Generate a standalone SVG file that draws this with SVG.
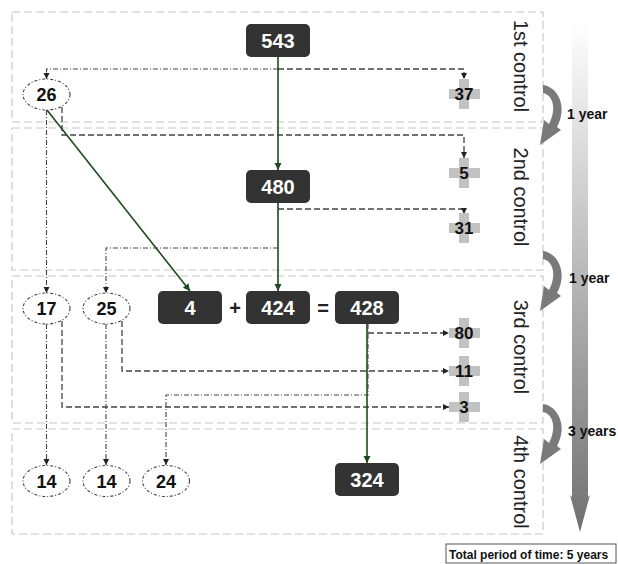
<svg xmlns="http://www.w3.org/2000/svg" width="618" height="564" viewBox="0 0 618 564">
<style>
.sec{fill:none;stroke:#c8c8c8;stroke-width:1.2;stroke-dasharray:8 4}
.node rect{fill:#333;stroke:none}
.node text{fill:#fff;font-family:"Liberation Sans",Arial,sans-serif;font-weight:bold;font-size:20px;text-anchor:middle}
.ell ellipse{fill:#fff;stroke:#444;stroke-width:1.1;stroke-dasharray:3 2 1 2}
.ell text{fill:#111;font-family:"Liberation Sans",Arial,sans-serif;font-weight:bold;font-size:18px;text-anchor:middle}
.cross rect{fill:#c2c2c2}
.cross text{fill:#111;font-family:"Liberation Sans",Arial,sans-serif;font-weight:bold;font-size:17px;text-anchor:middle}
.dash{fill:none;stroke:#444;stroke-width:1.3;stroke-dasharray:6 3}
.dd{fill:none;stroke:#444;stroke-width:1.1;stroke-dasharray:5 2 1 2}
.grn{fill:none;stroke:#1e4a1e;stroke-width:1.6}
.lab{fill:#222;font-family:"Liberation Sans",Arial,sans-serif;font-size:20px;text-anchor:middle}
.yr{fill:#111;font-family:"Liberation Sans",Arial,sans-serif;font-weight:bold;font-size:14px}
.op{fill:#222;font-family:"Liberation Sans",Arial,sans-serif;font-weight:bold;font-size:20px;text-anchor:middle}
.curv{fill:#7a7a7a;stroke:none}
</style>
<defs>
<marker id="ah" markerWidth="7" markerHeight="7" refX="6" refY="3" orient="auto" markerUnits="userSpaceOnUse"><path d="M0,0 L6,3 L0,6 z" fill="#222"/></marker>
<marker id="ag" markerWidth="8" markerHeight="8" refX="7" refY="3.5" orient="auto" markerUnits="userSpaceOnUse"><path d="M0,0 L7,3.5 L0,7 z" fill="#1e4a1e"/></marker>
<linearGradient id="bar" x1="0" y1="0" x2="0" y2="1">
<stop offset="0" stop-color="#ffffff"/>
<stop offset="1" stop-color="#707070"/>
</linearGradient>
<path id="curvA" class="curv" d="M543,0 C558,2 568,22 557,42 L561,45 L540,60 L544,35 L549,39 C557,24 553,10 543,8 Z"/>
</defs>
<rect width="618" height="564" fill="#fff"/>
<g id="sections">
<rect class="sec" x="12" y="12" width="531" height="110"/>
<rect class="sec" x="12" y="128" width="531" height="142"/>
<rect class="sec" x="12" y="276" width="531" height="147"/>
<rect class="sec" x="12" y="429" width="531" height="105"/>
</g>
<g id="timeline">
<polygon points="572,22 588,22 588,497 590,495 580,532 570,495 572,497" fill="url(#bar)"/>
<use href="#curvA" transform="translate(0,85)"/>
<use href="#curvA" transform="translate(0,251)"/>
<use href="#curvA" transform="translate(0,404)"/>
<text class="yr" x="567" y="119">1 year</text>
<text class="yr" x="569" y="283">1 year</text>
<text class="yr" x="568" y="436">3 years</text>
</g>
<g id="labels">
<text class="lab" transform="translate(521,66) rotate(90)" dominant-baseline="central">1st control</text>
<text class="lab" transform="translate(521,197) rotate(90)" dominant-baseline="central">2nd control</text>
<text class="lab" transform="translate(521,347) rotate(90)" dominant-baseline="central">3rd control</text>
<text class="lab" transform="translate(521,482) rotate(90)" dominant-baseline="central">4th control</text>
</g>
<g id="connectors">
<path class="dd" d="M278,69 H46.5 V79" marker-end="url(#ah)"/>
<path class="dash" d="M278,69 H464 V79" marker-end="url(#ah)"/>
<path class="dash" d="M62,107 V135 H464 V158" marker-end="url(#ah)"/>
<path class="dd" d="M46.5,110 V293" marker-end="url(#ah)"/>
<path class="dash" d="M278,209 H464 V214" marker-end="url(#ah)"/>
<path class="dd" d="M278,248 H106 V293" marker-end="url(#ah)"/>
<path class="dd" d="M46.5,324 V465" marker-end="url(#ah)"/>
<path class="dash" d="M62,321 V407 H449" marker-end="url(#ah)"/>
<path class="dd" d="M106,324 V465" marker-end="url(#ah)"/>
<path class="dash" d="M122,321 V371 H449" marker-end="url(#ah)"/>
<path class="dash" d="M368,333 H449" marker-end="url(#ah)"/>
<path class="dd" d="M368,324 V395 H166 V465" marker-end="url(#ah)"/>
<path class="grn" d="M278,57 V170" marker-end="url(#ag)"/>
<path class="grn" d="M278,203 V291" marker-end="url(#ag)"/>
<path class="grn" d="M47,110 L190,291" marker-end="url(#ag)"/>
<path class="grn" d="M367,324 V463" marker-end="url(#ag)"/>
</g>
<g id="n543" class="node"><rect x="246" y="24" width="64" height="33" rx="5"/><text x="278" y="48">543</text></g>
<g id="n480" class="node"><rect x="246" y="170" width="64" height="33" rx="5"/><text x="278" y="194">480</text></g>
<g id="n4" class="node"><rect x="158" y="291" width="64" height="33" rx="5"/><text x="190" y="315">4</text></g>
<g id="n424" class="node"><rect x="246" y="291" width="64" height="33" rx="5"/><text x="278" y="315">424</text></g>
<g id="n428" class="node"><rect x="335" y="291" width="64" height="33" rx="5"/><text x="367" y="315">428</text></g>
<g id="n324" class="node"><rect x="335" y="463" width="64" height="33" rx="5"/><text x="367" y="487">324</text></g>
<text class="op" x="235" y="315">+</text>
<text class="op" x="323" y="315">=</text>
<g id="e26" class="ell"><ellipse cx="46.5" cy="94.5" rx="23.5" ry="15.5"/><text x="46.5" y="101">26</text></g>
<g id="e17" class="ell"><ellipse cx="46.5" cy="308.5" rx="23.5" ry="15.5"/><text x="46.5" y="315">17</text></g>
<g id="e25" class="ell"><ellipse cx="106.5" cy="308.5" rx="23.5" ry="15.5"/><text x="106.5" y="315">25</text></g>
<g id="e14a" class="ell"><ellipse cx="46.5" cy="481" rx="23.5" ry="15.5"/><text x="46.5" y="487.5">14</text></g>
<g id="e14b" class="ell"><ellipse cx="106.5" cy="481" rx="23.5" ry="15.5"/><text x="106.5" y="487.5">14</text></g>
<g id="e24" class="ell"><ellipse cx="166" cy="481" rx="23.5" ry="15.5"/><text x="166" y="487.5">24</text></g>
<g id="c37" class="cross"><rect x="449" y="89" width="31" height="10"/><rect x="459" y="79" width="10" height="30"/><text x="464" y="100">37</text></g>
<g id="c5" class="cross"><rect x="449" y="168" width="31" height="10"/><rect x="459" y="158" width="10" height="30"/><text x="464" y="179">5</text></g>
<g id="c31" class="cross"><rect x="449" y="223" width="31" height="10"/><rect x="459" y="213" width="10" height="30"/><text x="464" y="234">31</text></g>
<g id="c80" class="cross"><rect x="449" y="328" width="31" height="10"/><rect x="459" y="318" width="10" height="30"/><text x="464" y="339">80</text></g>
<g id="c11" class="cross"><rect x="449" y="366" width="31" height="10"/><rect x="459" y="356" width="10" height="30"/><text x="464" y="377">11</text></g>
<g id="c3" class="cross"><rect x="449" y="402" width="31" height="10"/><rect x="459" y="392" width="10" height="30"/><text x="464" y="413">3</text></g>
<g id="total">
<rect x="446" y="544" width="170" height="19" fill="#fff" stroke="#555" stroke-width="1"/>
<text x="449" y="559" style="fill:#111;font-family:'Liberation Sans',Arial,sans-serif;font-weight:bold;font-size:12px">Total period of time: 5 years</text>
</g>
</svg>
